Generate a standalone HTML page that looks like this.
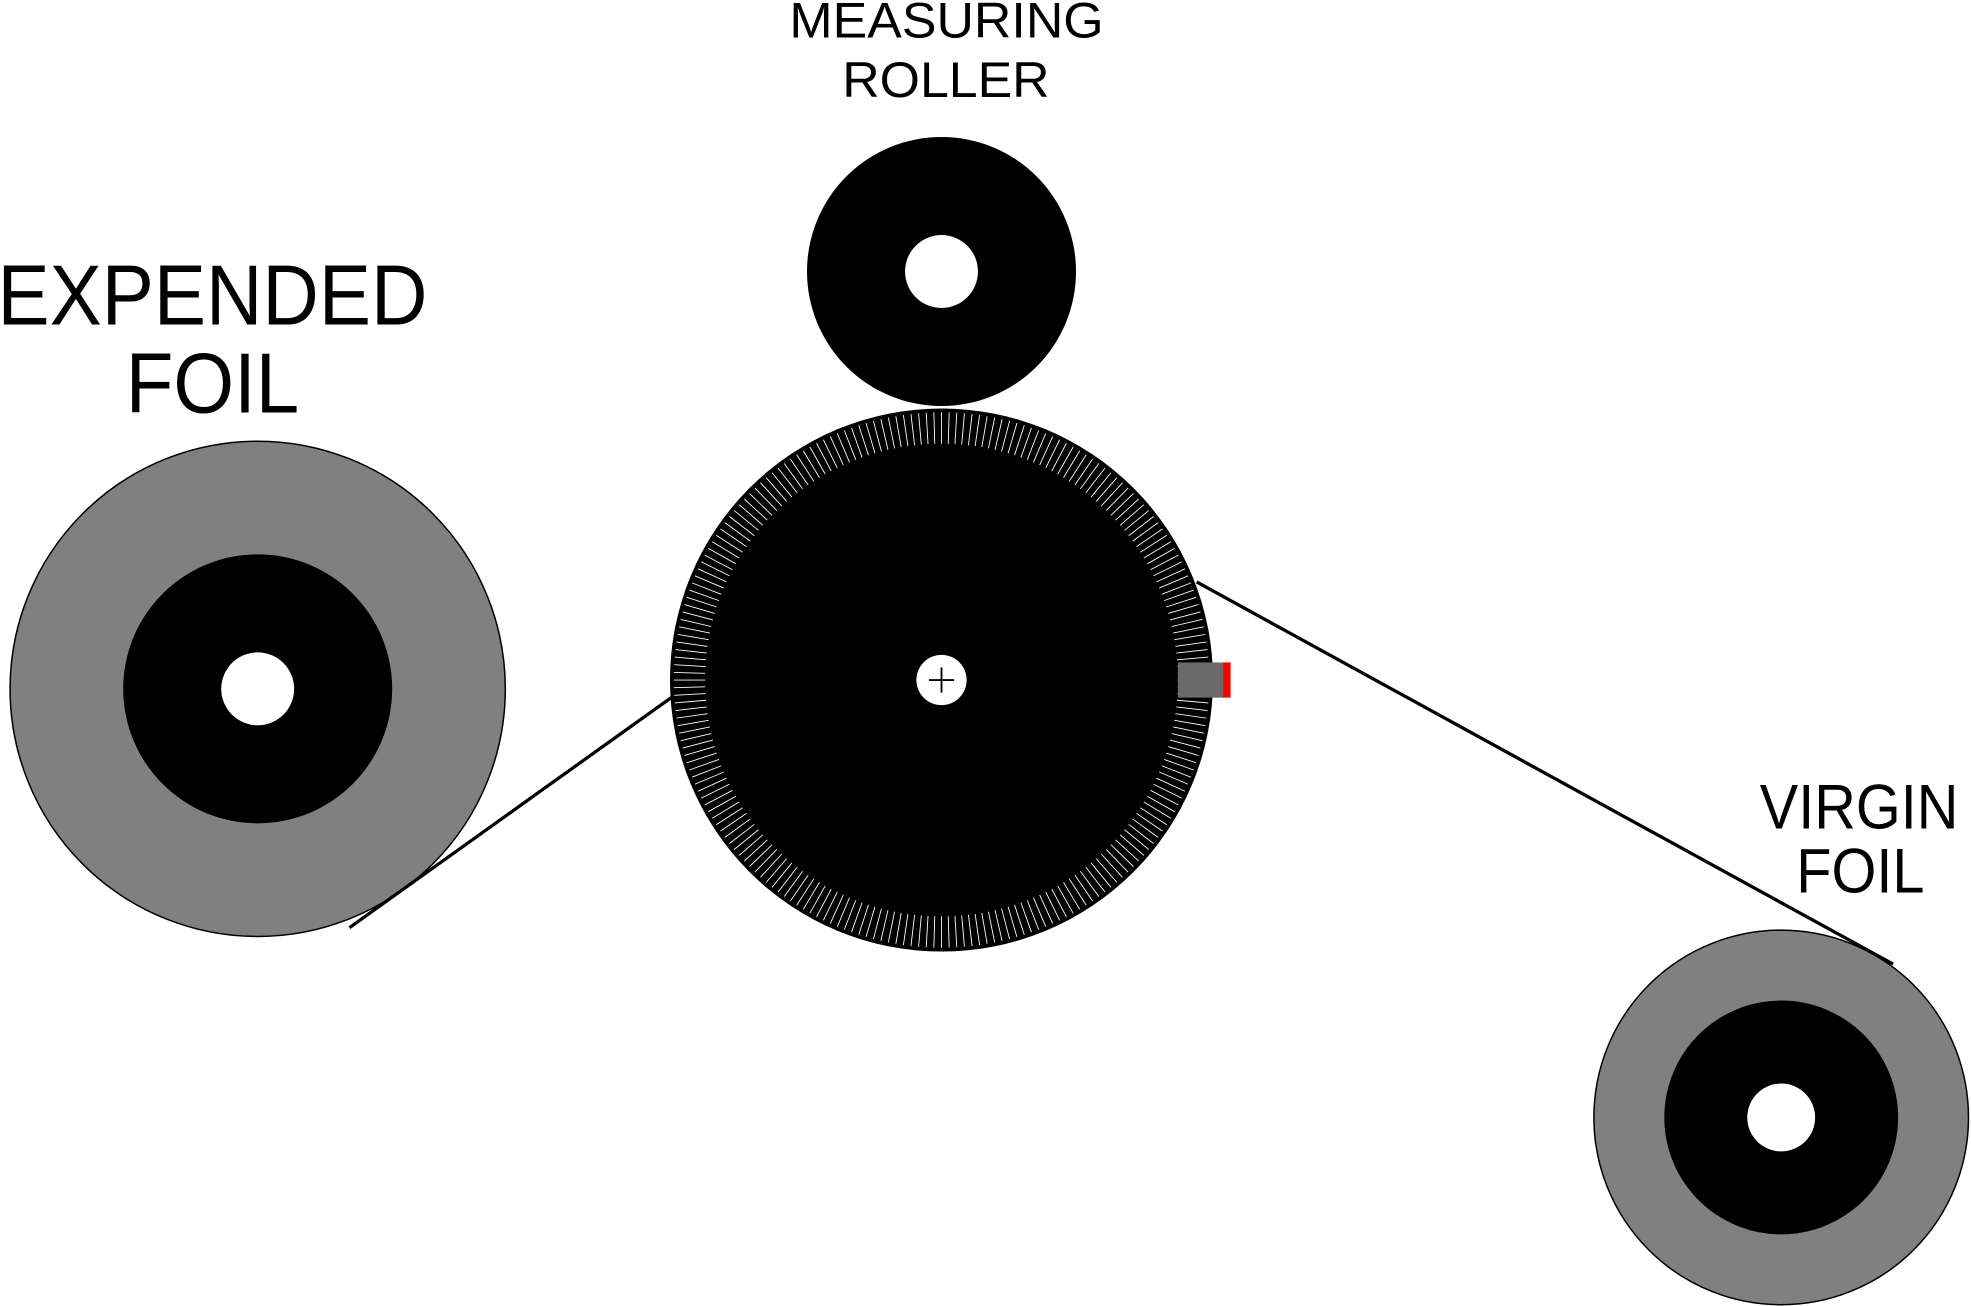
<!DOCTYPE html>
<html><head><meta charset="utf-8"><style>
html,body{margin:0;padding:0;background:#fff;}
svg{display:block;}
text{font-family:"Liberation Sans",Arial,sans-serif;fill:#000;}
</style></head><body>
<svg id="s" width="1971" height="1306" viewBox="0 0 1568 1039" preserveAspectRatio="none" xmlns="http://www.w3.org/2000/svg">
<rect width="1568" height="1039" fill="#fff"/>
<text x="628" y="30" font-size="40" textLength="250" lengthAdjust="spacingAndGlyphs">MEASURING</text>
<text x="670" y="77" font-size="40" textLength="165" lengthAdjust="spacingAndGlyphs">ROLLER</text>
<text x="-2" y="258" font-size="68" textLength="342" lengthAdjust="spacingAndGlyphs">EXPENDED</text>
<text x="100" y="328" font-size="68" textLength="138" lengthAdjust="spacingAndGlyphs">FOIL</text>
<text x="1400" y="659" font-size="50" textLength="158" lengthAdjust="spacingAndGlyphs">VIRGIN</text>
<text x="1429" y="710" font-size="50" textLength="102" lengthAdjust="spacingAndGlyphs">FOIL</text>
<!-- measuring roller -->
<circle cx="749" cy="216" r="107" fill="#000"/>
<circle cx="749" cy="216" r="29" fill="#fff"/>
<!-- expended foil -->
<circle cx="205" cy="548" r="197" fill="#808080" stroke="#000" stroke-width="1.2"/>
<circle cx="205" cy="548" r="107" fill="#000"/>
<circle cx="205" cy="548" r="29" fill="#fff"/>
<!-- virgin foil -->
<circle cx="1417" cy="889" r="149" fill="#808080" stroke="#000" stroke-width="1.2"/>
<circle cx="1417" cy="889" r="93" fill="#000"/>
<circle cx="1417" cy="889" r="27" fill="#fff"/>
<!-- foil lines -->
<line x1="278" y1="738" x2="534" y2="555" stroke="#000" stroke-width="2.6"/>
<line x1="952" y1="463" x2="1506" y2="767" stroke="#000" stroke-width="2.6"/>
<!-- main wheel -->
<circle cx="749" cy="541" r="216" fill="#000"/>
<g id="ticks" stroke="#fff" stroke-width="0.7"></g>
<circle cx="749" cy="541" r="20" fill="#fff"/>
<line x1="739" y1="541" x2="759" y2="541" stroke="#000" stroke-width="1.5"/>
<line x1="749" y1="531" x2="749" y2="551" stroke="#000" stroke-width="1.5"/>
<!-- sensor -->
<rect x="937" y="527" width="37" height="28" fill="#6a6a6a"/>
<rect x="973" y="527" width="6" height="28" fill="#ff0000"/>
</svg>
<script>
var g=document.getElementById('ticks'),s='',N=220;
for(var i=0;i<N;i++){var a=i*2*Math.PI/N,c=Math.cos(a),n=Math.sin(a);
s+='<line x1="'+(749+188*c).toFixed(2)+'" y1="'+(541+188*n).toFixed(2)+'" x2="'+(749+213*c).toFixed(2)+'" y2="'+(541+213*n).toFixed(2)+'"/>';}
g.innerHTML=s;
</script>
</body></html>
